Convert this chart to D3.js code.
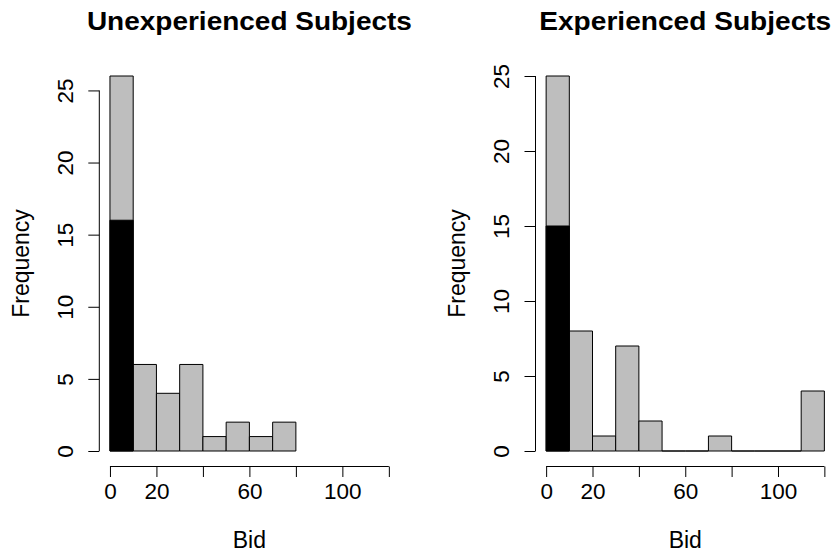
<!DOCTYPE html>
<html>
<head>
<meta charset="utf-8">
<script src="https://cdn.jsdelivr.net/npm/d3@7"></script>
<style>
  body { margin: 0; background: #fff; }
  text { font-family: "Liberation Sans", Arial, Helvetica, sans-serif; fill: #000; }
</style>
</head>
<body>
<div id="chart"></div>
<script>
// bin edges shared by both histograms (width 10)
const binStarts = [0, 10, 20, 30, 40, 50, 60, 70, 80, 90, 100, 110];
const binWidth = 10;

// counts per bin
const unexpCounts = [26, 6, 4, 6, 1, 2, 1, 2];
const expCounts = [25, 8, 1, 7, 2, 0, 0, 1, 0, 0, 0, 4];

// black overlay in first bin
const unexpHighlight = [16];
const expHighlight = [15];

const xTicks = [0, 20, 40, 60, 80, 100, 120];
const xTickLabels = ["0", "20", "", "60", "", "100", ""];
const yTicks = [0, 5, 10, 15, 20, 25];

const W = 836, H = 558;

const panels = [
  { title: "Unexperienced Subjects", counts: unexpCounts, highlight: unexpHighlight,
    left: 98.8, right: 400, titleLen: 325 },
  { title: "Experienced Subjects", counts: expCounts, highlight: expHighlight,
    left: 535, right: 835.5, titleLen: 292 }
];
const plotTop = 61, plotBottom = 466;

const svg = d3.select("#chart")
  .append("svg")
  .attr("width", W)
  .attr("height", H);

// closed rectangle path, so empty bins still draw their bottom edge
function barPath(x0, x1, y0, y1) {
  return `M${x0},${y0}H${x1}V${y1}H${x0}Z`;
}

panels.forEach(p => {
  const g = svg.append("g");
  const ymax = d3.max(p.counts);

  // R-style 4% axis extension
  const x = d3.scaleLinear().domain([-4.8, 124.8]).range([p.left, p.right]);
  const y = d3.scaleLinear().domain([-0.04 * ymax, ymax * 1.04]).range([plotBottom, plotTop]);
  const cx = (p.left + p.right) / 2;

  const bins = p.counts.map((c, i) => ({ x0: binStarts[i], count: c }));

  g.selectAll(".bar")
    .data(bins)
    .enter().append("path")
    .attr("class", "bar")
    .attr("d", d => barPath(x(d.x0), x(d.x0 + binWidth), y(0), y(d.count)))
    .attr("fill", "#bebebe")
    .attr("stroke", "#000")
    .attr("stroke-width", 1);

  g.selectAll(".hi")
    .data(p.highlight)
    .enter().append("path")
    .attr("class", "hi")
    .attr("d", (d, i) => barPath(x(binStarts[i]), x(binStarts[i] + binWidth), y(0), y(d)))
    .attr("fill", "#000")
    .attr("stroke", "#000")
    .attr("stroke-width", 1);

  // x axis
  const xAxis = g.append("g")
    .attr("transform", `translate(0,${plotBottom + 0.5})`)
    .call(d3.axisBottom(x).tickValues(xTicks).tickSize(10.5).tickPadding(6)
      .tickFormat((d, i) => xTickLabels[i]));
  xAxis.select(".domain").attr("d", `M${x(0)},0H${x(120)}`).attr("stroke", "#000");
  xAxis.selectAll(".tick line").attr("stroke", "#000");
  xAxis.selectAll(".tick text")
    .attr("font-size", 22.5)
    .attr("dy", "0.71em")
    .style("font-family", "\"Liberation Sans\", Arial, sans-serif");

  // y axis
  const yAxis = g.append("g")
    .attr("transform", `translate(${p.left + 0.5},0)`)
    .call(d3.axisLeft(y).tickValues(yTicks).tickSize(11).tickPadding(0));
  yAxis.select(".domain").attr("d", `M0,${y(0)}V${y(yTicks[yTicks.length - 1])}`).attr("stroke", "#000");
  yAxis.selectAll(".tick line").attr("stroke", "#000");
  yAxis.selectAll(".tick text")
    .attr("font-size", 22.5)
    .attr("x", null)
    .attr("dy", null)
    .attr("text-anchor", "middle")
    .attr("transform", `translate(${-26.5},0) rotate(-90)`)
    .style("font-family", "\"Liberation Sans\", Arial, sans-serif");

  // title
  g.append("text")
    .attr("x", cx)
    .attr("y", 29.5)
    .attr("text-anchor", "middle")
    .attr("font-size", 26)
    .attr("font-weight", "bold")
    .attr("textLength", p.titleLen)
    .attr("lengthAdjust", "spacingAndGlyphs")
    .text(p.title);

  // axis labels
  g.append("text")
    .attr("x", cx)
    .attr("y", 548)
    .attr("text-anchor", "middle")
    .attr("font-size", 23)
    .text("Bid");

  g.append("text")
    .attr("transform", `translate(${p.left - 70},${(plotTop + plotBottom) / 2}) rotate(-90)`)
    .attr("text-anchor", "middle")
    .attr("font-size", 23)
    .text("Frequency");
});
</script>
</body>
</html>
